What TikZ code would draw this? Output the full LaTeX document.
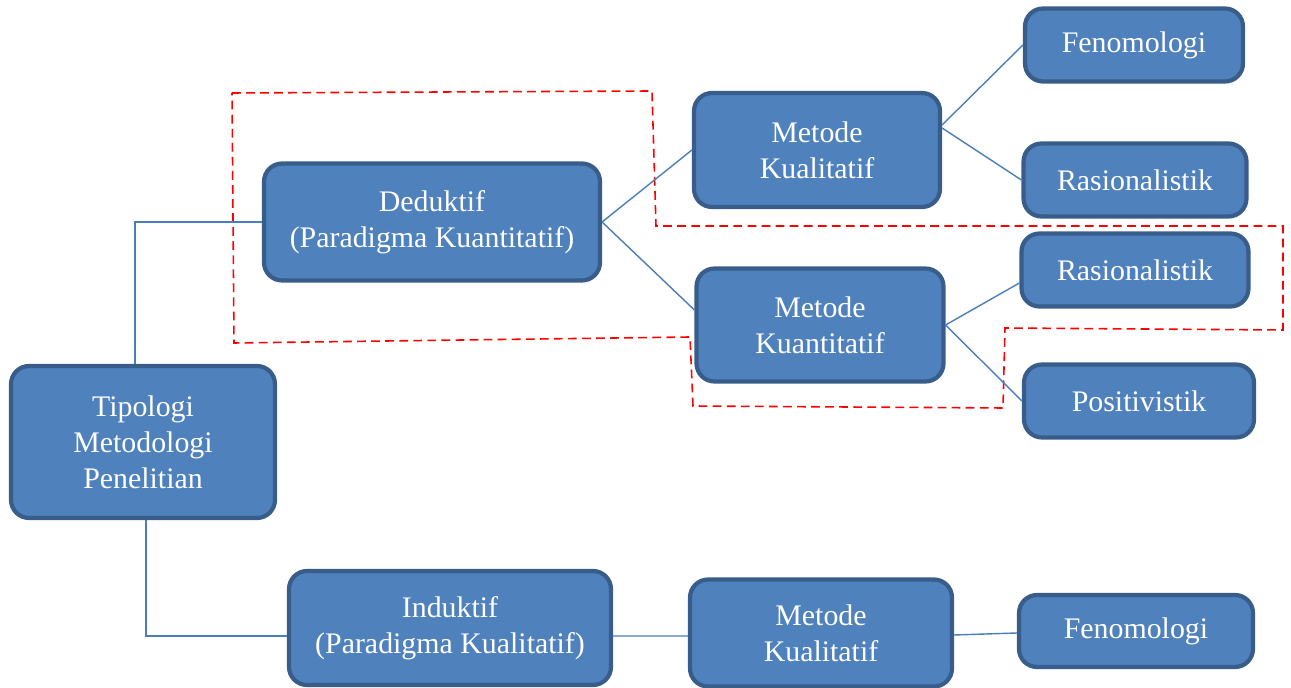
\documentclass[tikz,border=0pt]{standalone}
\usepackage{fontspec}
\setmainfont{Liberation Serif}
\definecolor{boxfill}{HTML}{4F81BD}
\definecolor{boxline}{HTML}{385D8A}
\definecolor{linkblue}{HTML}{4A7EBB}
\tikzset{
  box/.style={draw=boxline,fill=boxfill,line width=2.4pt,rounded corners=0.36cm,
    text=white,align=center,font=\fontsize{17}{20.6}\selectfont,inner sep=0pt},
  link/.style={draw=linkblue,line width=0.8pt},
  frame/.style={draw=red,line width=0.9pt,dash pattern=on 5pt off 3pt}
}
\begin{document}
\begin{tikzpicture}[x=0.02cm,y=-0.02cm]
                \useasboundingbox (0,0) rectangle (1291,688);
                % dashed outline
                \draw[frame] (232,93)--(652,91)--(656,226)--(1283,226)--(1283,330)--(1005,328)--(1003,408)--(693,406)--(690,337)--(234,343)--cycle;
                % boxes
                \node[box,minimum width=5.28cm,minimum height=3.04cm] (tip) at (143,442) {Tipologi\\Metodologi\\Penelitian};
                \node[box,minimum width=6.72cm,minimum height=2.34cm] (ded) at (432,222) {Deduktif\\(Paradigma Kuantitatif)};
                \node[box,minimum width=6.44cm,minimum height=2.28cm] (ind) at (450,628) {Induktif\\(Paradigma Kualitatif)};
                \node[box,minimum width=4.92cm,minimum height=2.28cm] (kual) at (817,150) {Metode\\Kualitatif};
                \node[box,minimum width=4.94cm,minimum height=2.26cm] (kuan) at (820,325) {Metode\\Kuantitatif};
                \node[box,minimum width=5.24cm,minimum height=2.14cm] (kualb) at (821,633) {Metode\\Kualitatif};
                \node[box,minimum width=4.36cm,minimum height=1.46cm] (fenoa) at (1134,45) {Fenomologi};
                \node[box,minimum width=4.46cm,minimum height=1.46cm] (rasa) at (1135,180) {Rasionalistik};
                \node[box,minimum width=4.54cm,minimum height=1.46cm] (rasb) at (1135,270) {Rasionalistik};
                \node[box,minimum width=4.60cm,minimum height=1.46cm] (posi) at (1139,401) {Positivistik};
                \node[box,minimum width=4.68cm,minimum height=1.44cm] (fenob) at (1136,631) {Fenomologi};
                % links
                \draw[link] ([xshift=-0.16cm]tip.north) |- (ded.west);
                \draw[link] ([xshift=0.06cm]tip.south) |- ([yshift=-0.16cm]ind.west);
                \draw[link] (ded.east) -- (kual.west);
                \draw[link] (ded.east) -- ([yshift=0.3cm]kuan.west);
                \draw[link] ([yshift=0.5cm]kual.east) -- (fenoa.west);
                \draw[link] ([yshift=0.44cm]kual.east) -- (rasa.west);
                \draw[link] (kuan.east) -- ([yshift=-0.26cm]rasb.west);
                \draw[link] (kuan.east) -- (posi.west);
                \draw[link] ([yshift=-0.16cm]ind.east) -- ([yshift=-0.06cm]kualb.west);
                \draw[link] ([yshift=-0.04cm]kualb.east) -- ([yshift=-0.04cm]fenob.west);
            \end{tikzpicture}
\end{document}
